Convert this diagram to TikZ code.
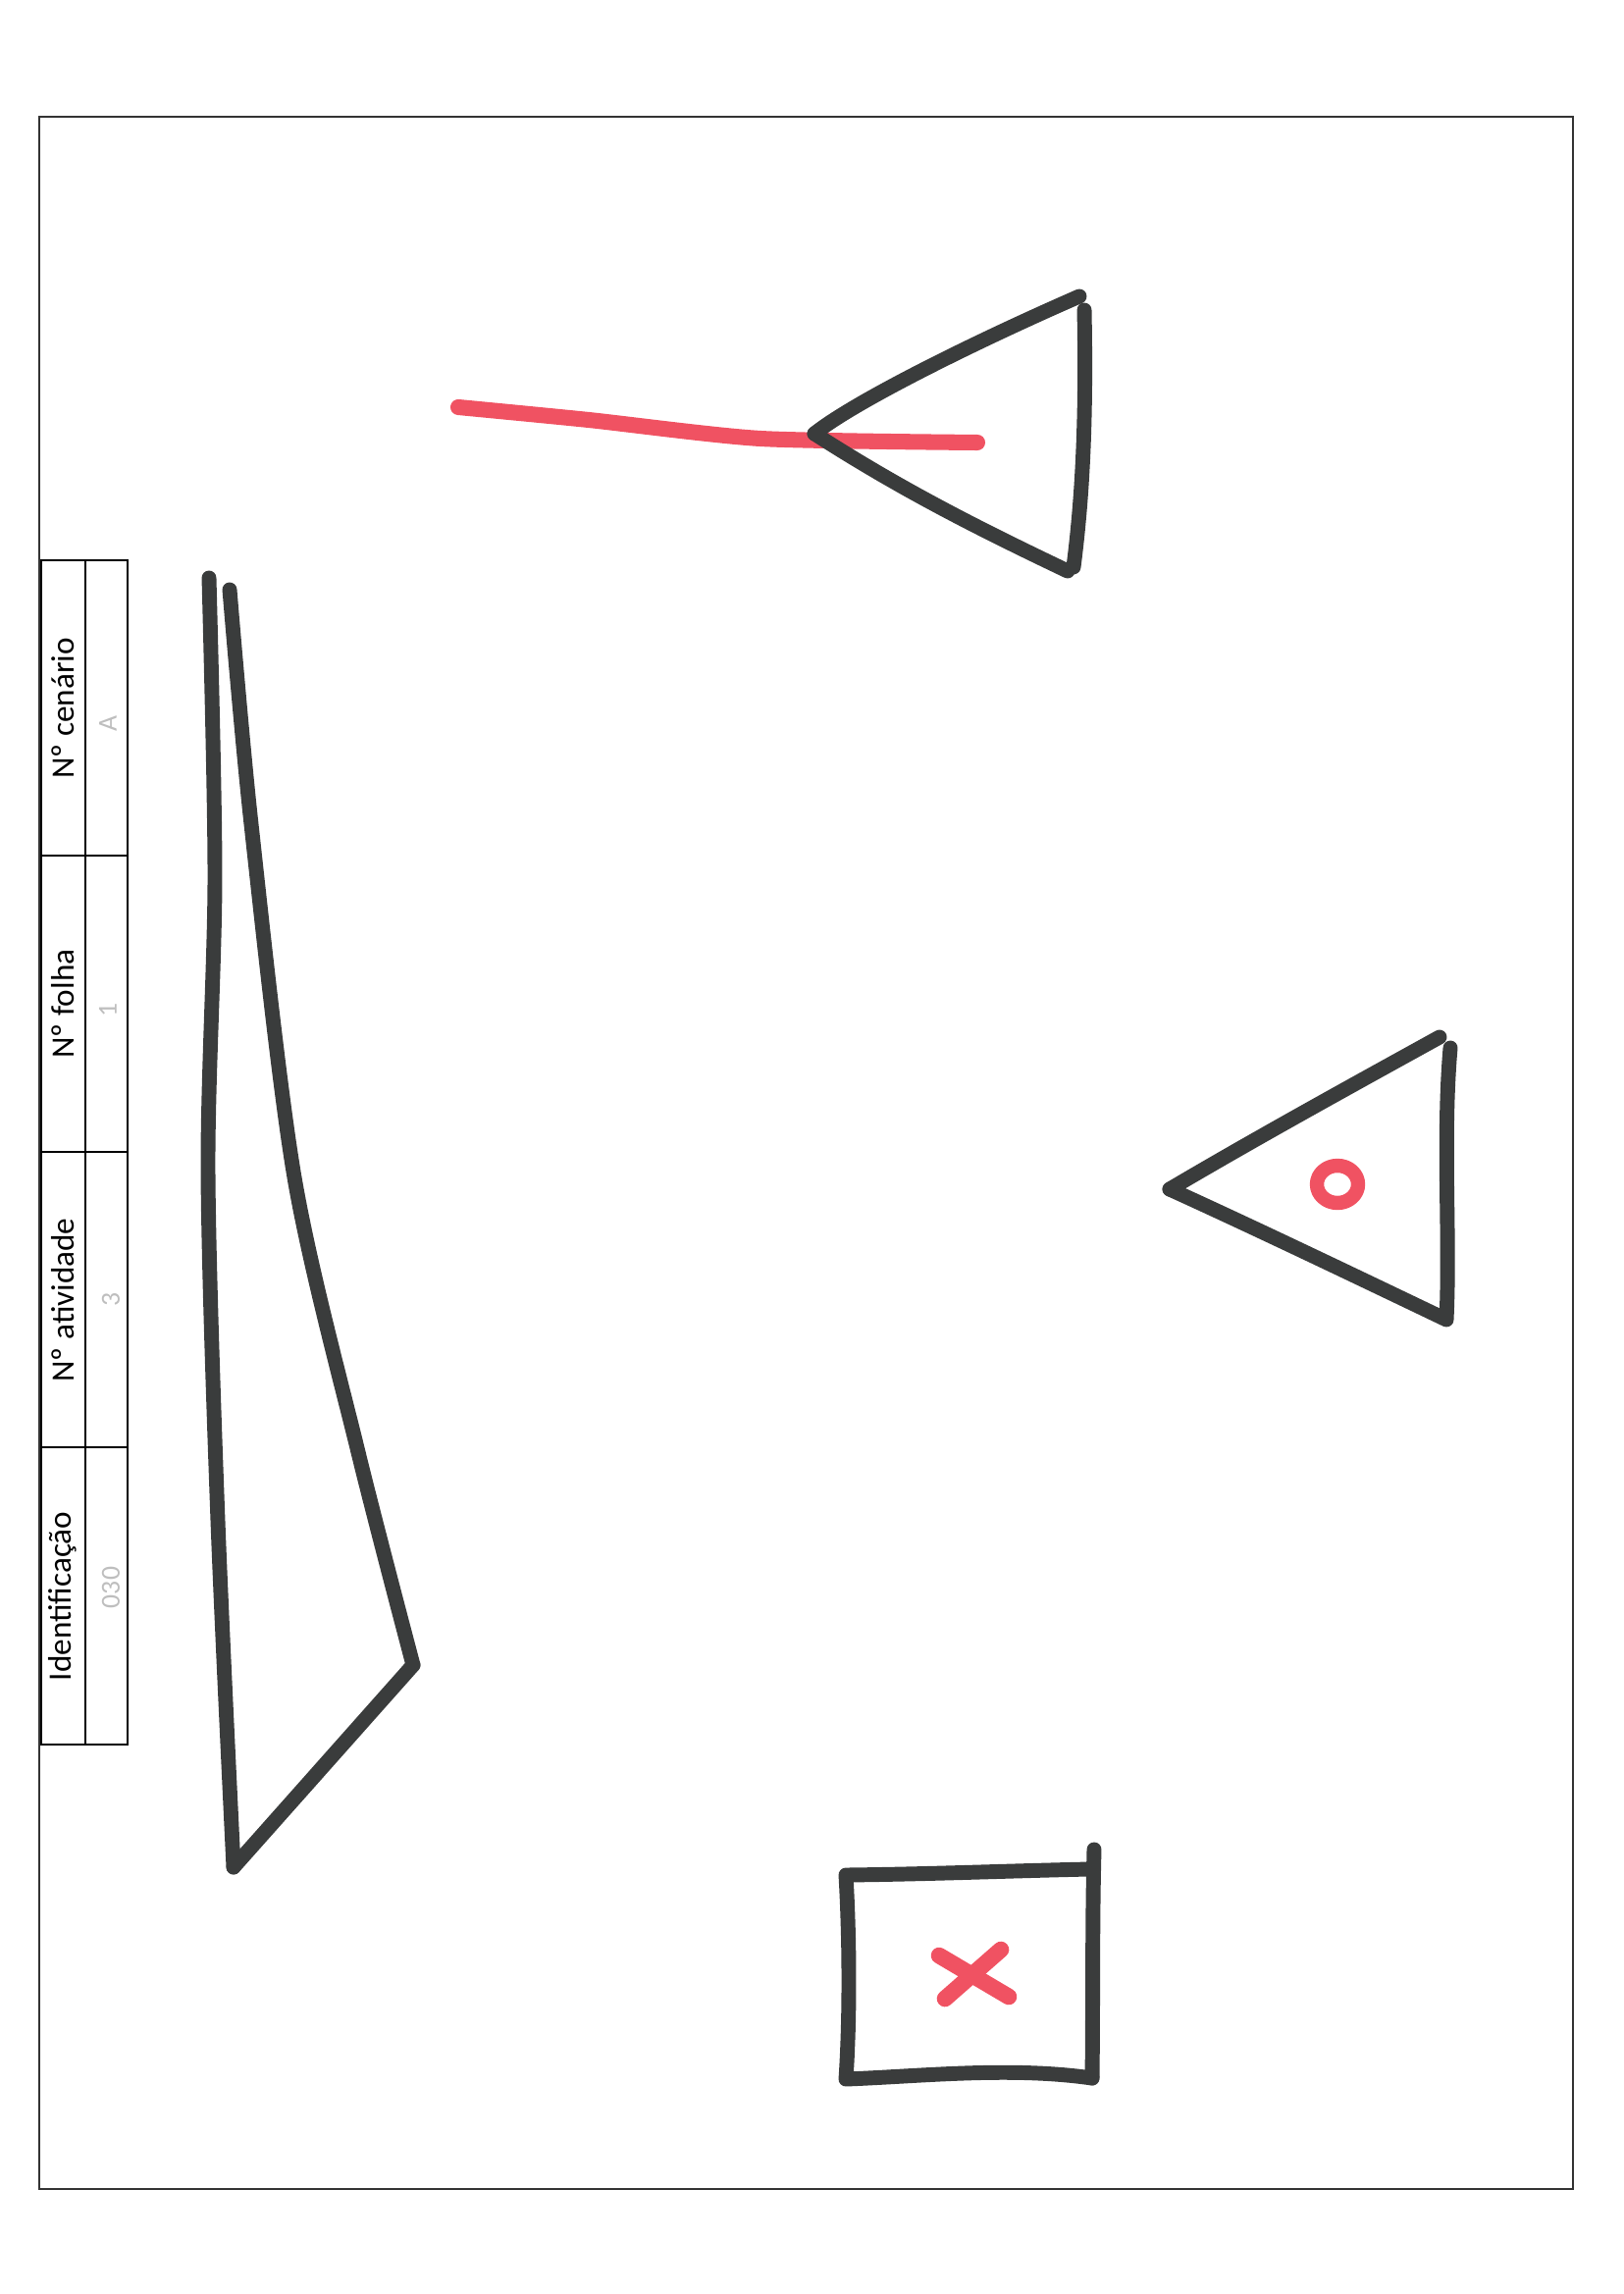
\documentclass[tikz,border=0pt]{standalone}
\usepackage{fontspec}
\setsansfont{Carlito}
\usetikzlibrary{calc, positioning}
\definecolor{marker}{RGB}{58,60,60}
\definecolor{redmarker}{RGB}{240,82,98}
\definecolor{pencil}{RGB}{190,190,190}

\begin{document}
\begin{tikzpicture}[x=0.012696cm, y=-0.012696cm,
  markerline/.style={draw=marker, line width=5.4pt, line cap=round, line join=round},
  redline/.style={draw=redmarker, line width=5.8pt, line cap=round, line join=round},
  headtext/.style={rotate=90, font=\sffamily\fontsize{12}{14}\selectfont},
  valtext/.style={rotate=90, text=pencil, font=\sffamily\fontsize{10}{12}\selectfont}]
\useasboundingbox (0,0) rectangle (1654,2338);

% page frame
\draw[line width=1pt, draw=black!80] (40,119) rectangle (1603,2231);

% table
\draw[line width=0.9pt] (42,571) rectangle (130,1778);
\draw[line width=0.9pt] (87,571) -- (87,1778);
\foreach \y in {872,1174,1475}
  \draw[line width=0.9pt] (42,\y) -- (130,\y);

\node[headtext] (cenario) at (64,722) {Nº cenário};
\node[headtext] (folha) at (64,1023) {Nº folha};
\node[headtext] (atividade) at (64,1325) {Nº atividade};
\node[headtext] (ident) at (64,1627) {Identificação};
\node[valtext] (cenarioval) at (110,737) {A};
\node[valtext] (folhaval) at (110,1029) {1};
\node[valtext] (atividadeval) at (113,1324) {3};
\node[valtext] (identval) at (113,1618) {030};

% top triangle with red line
\coordinate (P) at (830,442);
\coordinate (Q) at (1100,302);
\coordinate (R) at (1088,582);

\draw[redline] plot[smooth, tension=0.4] coordinates {(467,415) (600,428) (775,447) (996,451)};

\draw[markerline] (P) .. controls (870,410) and (990,350) .. (Q);
\draw[markerline] (1105,316) .. controls (1107,420) and (1104,500) .. (1094,578);
\draw[markerline] (P) .. controls (920,500) and (1000,540) .. (R);

% big left triangle
\coordinate (A) at (213,589);
\coordinate (B) at (234,601);
\coordinate (C) at (421,1697);
\coordinate (D) at (238,1903);

\draw[markerline] plot[smooth, tension=0.5] coordinates {(A) (219,895) (212,1193) (222,1550) (D)};
\draw[markerline] plot[smooth, tension=0.5] coordinates {(B) (256,840) (300,1200) (365,1480) (C)};
\draw[markerline] (C) -- (D);

% right triangle
\coordinate (E) at (1192,1212);
\coordinate (F) at (1467,1057);
\coordinate (G) at (1472,1344);

\draw[markerline] (E) .. controls (1280,1160) and (1380,1105) .. (F);
\draw[markerline] (1478,1068) .. controls (1470,1160) and (1478,1260) .. (1474,1345);
\draw[markerline] (E) .. controls (1280,1252) and (1380,1300) .. (G);
\draw[redline, line width=5.2pt] (1363,1207) ellipse (21 and 19);

% rectangle with cross
\coordinate (H) at (1110,1905);
\coordinate (K) at (862,1911);
\coordinate (L) at (862,2119);
\coordinate (M) at (1113,2118);

\draw[markerline] (H) .. controls (1020,1907) and (950,1910) .. (K)
  .. controls (866,1980) and (866,2060) .. (L)
  .. controls (940,2116) and (1030,2106) .. (M);
\draw[markerline] (1115,1885) .. controls (1113,1960) and (1114,2040) .. (M);
\draw[redline, line width=6pt] (957,1993) -- (1028,2035);
\draw[redline, line width=6pt] (1020,1987) -- (963,2037);
\end{tikzpicture}
\end{document}
